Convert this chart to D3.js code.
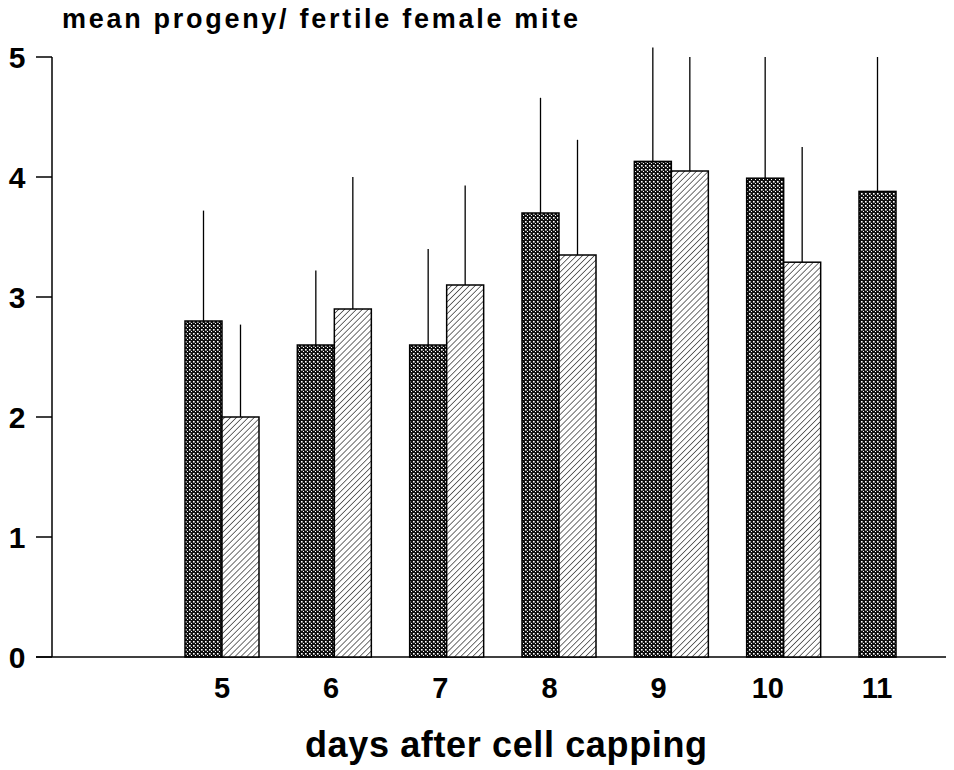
<!DOCTYPE html>
<html>
<head>
<meta charset="utf-8">
<script src="https://cdn.jsdelivr.net/npm/d3@7"></script>
<style>
  body { margin: 0; background: #fff; }
  text { font-family: "Liberation Sans", Arial, sans-serif; font-weight: bold; fill: #000; }
</style>
</head>
<body>
<svg id="chart"></svg>
<script>
// days after capping
const days = [5, 6, 7, 8, 9, 10, 11]
// dark (cross-hatched) series, null = no bar
const darkMean = [2.8, 2.6, 2.6, 3.7, 4.13, 3.99, 3.88]
const darkErr  = [3.72, 3.22, 3.4, 4.66, 5.08, 5.0, 5.0]
// light (striped) series
const lightMean = [2.0, 2.9, 3.1, 3.35, 4.05, 3.29, null]
const lightErr  = [2.77, 4.0, 3.93, 4.31, 5.0, 4.25, null]
const yTicks = [0, 1, 2, 3, 4, 5]

const width = 954, height = 770
const barW = 37

const svg = d3.select('#chart')
    .attr('width', width)
    .attr('height', height)

const defs = svg.append('defs')

// dense cross-hatch: black with white dots
const cross = defs.append('pattern')
    .attr('id', 'cross')
    .attr('patternUnits', 'userSpaceOnUse')
    .attr('width', 4)
    .attr('height', 4)
cross.append('rect').attr('width', 4).attr('height', 4).attr('fill', '#111')
cross.append('rect').attr('x', 1).attr('y', 1).attr('width', 1.6).attr('height', 1.6).attr('fill', '#fff')
cross.append('rect').attr('x', 3).attr('y', 3).attr('width', 1.6).attr('height', 1.6).attr('fill', '#fff')

// diagonal hatch "////"
const hatch = defs.append('pattern')
    .attr('id', 'hatch')
    .attr('patternUnits', 'userSpaceOnUse')
    .attr('width', 4.2)
    .attr('height', 4.2)
    .attr('patternTransform', 'rotate(45)')
hatch.append('rect').attr('width', 4.2).attr('height', 4.2).attr('fill', '#fff')
hatch.append('line')
    .attr('x1', 0).attr('y1', 0).attr('x2', 0).attr('y2', 4.2)
    .attr('stroke', '#222').attr('stroke-width', 1.3)

const y = d3.scaleLinear().domain([0, 5]).range([657, 57])
// group centre (between the two bars)
const x = d3.scaleLinear().domain([5, 11]).range([222, 896])
// tick label positions
const xLab = d3.scaleLinear().domain([5, 11]).range([222, 877])

// axes
const g = svg.append('g')

g.append('line')
    .attr('x1', 52).attr('x2', 52)
    .attr('y1', y(5)).attr('y2', y(0))
    .attr('stroke', '#000').attr('stroke-width', 1.5)

g.append('line')
    .attr('x1', 36).attr('x2', 946)
    .attr('y1', y(0)).attr('y2', y(0))
    .attr('stroke', '#000').attr('stroke-width', 1.5)

g.selectAll('.ytick')
    .data(yTicks)
    .join('line')
        .attr('class', 'ytick')
        .attr('x1', 36).attr('x2', 52)
        .attr('y1', d => y(d)).attr('y2', d => y(d))
        .attr('stroke', '#000').attr('stroke-width', 1.5)

g.selectAll('.ylab')
    .data(yTicks)
    .join('text')
        .attr('class', 'ylab')
        .attr('x', 17)
        .attr('y', d => y(d))
        .attr('dy', '0.36em')
        .attr('text-anchor', 'middle')
        .attr('font-size', 30)
        .text(d => d)

g.selectAll('.xlab')
    .data(days)
    .join('text')
        .attr('class', 'xlab')
        .attr('x', d => xLab(d))
        .attr('y', 698)
        .attr('text-anchor', 'middle')
        .attr('font-size', 29)
        .text(d => d)

svg.append('text')
    .attr('x', 62)
    .attr('y', 28)
    .attr('font-size', 27)
    .attr('textLength', 516)
    .attr('lengthAdjust', 'spacing')
    .text('mean progeny/ fertile female mite')

svg.append('text')
    .attr('x', 305)
    .attr('y', 757)
    .attr('font-size', 36)
    .attr('textLength', 402)
    .attr('lengthAdjust', 'spacing')
    .text('days after cell capping')

// bars
const rows = days.map((d, i) => ({ day: d, dm: darkMean[i], de: darkErr[i], lm: lightMean[i], le: lightErr[i] }))

const bars = svg.append('g')

function drawSeries(key, errKey, offset, fill) {
    const data = rows.filter(r => r[key] !== null)
    bars.selectAll('.err-' + key)
        .data(data)
        .join('line')
            .attr('x1', r => x(r.day) + offset + barW / 2)
            .attr('x2', r => x(r.day) + offset + barW / 2)
            .attr('y1', r => y(r[key]))
            .attr('y2', r => y(r[errKey]))
            .attr('stroke', '#000')
            .attr('stroke-width', 1.3)
    bars.selectAll('.bar-' + key)
        .data(data)
        .join('rect')
            .attr('x', r => x(r.day) + offset)
            .attr('y', r => y(r[key]))
            .attr('width', barW)
            .attr('height', r => y(0) - y(r[key]))
            .attr('fill', fill)
            .attr('stroke', '#000')
            .attr('stroke-width', 1.5)
}

drawSeries('dm', 'de', -barW, 'url(#cross)')
drawSeries('lm', 'le', 0, 'url(#hatch)')
</script>
</body>
</html>
